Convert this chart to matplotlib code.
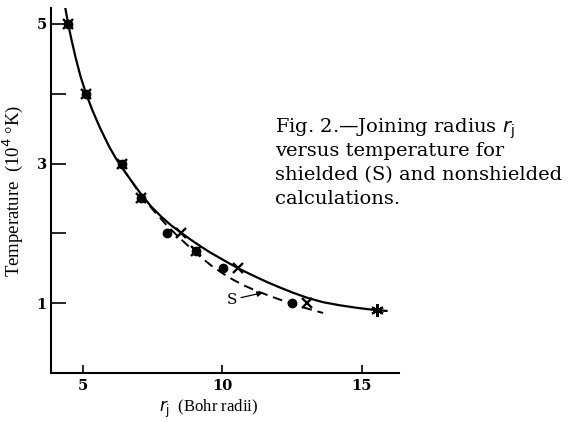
import matplotlib
matplotlib.use("Agg")
import matplotlib.pyplot as plt

# smooth curve through the nonshielded results (r_j in Bohr radii, T in 10^4 K)
curve_r = [4.38, 4.48, 4.60, 4.75, 4.92, 5.12, 5.35, 5.62, 5.95, 6.20,
           6.42, 6.70, 7.10, 7.45, 7.80, 8.15, 8.52, 8.85, 9.20, 9.55,
           9.90, 10.25, 10.57, 11.00, 11.59, 12.00, 12.50, 13.02, 13.60, 14.21,
           14.80, 15.20, 15.53, 15.88]
curve_t = [5.22, 5.00, 4.77, 4.51, 4.25, 4.00, 3.76, 3.51, 3.24, 3.065,
           2.935, 2.775, 2.555, 2.385, 2.245, 2.12, 2.01, 1.915, 1.82, 1.73,
           1.65, 1.57, 1.50, 1.415, 1.305, 1.235, 1.155, 1.08, 1.015, 0.97,
           0.935, 0.915, 0.90, 0.89]

# dashed curve through the shielded results
shield_curve_r = [6.42, 6.70, 7.10, 7.53, 8.00, 8.48, 8.85, 9.21, 9.60, 10.00,
                  10.39, 10.80, 11.20, 11.59, 12.00, 12.40, 12.78, 13.20, 13.61]
shield_curve_t = [2.935, 2.775, 2.54, 2.33, 2.12, 1.93, 1.795, 1.665, 1.54, 1.43,
                  1.335, 1.25, 1.18, 1.12, 1.06, 1.005, 0.955, 0.905, 0.86]

# computed points
temps = [5.0, 4.0, 3.0, 2.5, 2.0, 1.75, 1.5, 1.0]
r_nonshielded = [4.48, 5.12, 6.42, 7.10, 8.52, 9.06, 10.55, 13.05]
r_shielded = [4.48, 5.12, 6.42, 7.10, 8.03, 9.06, 10.02, 12.48]
r_last, t_last = 15.55, 0.90

x_ticks = [5, 10, 15]
y_ticks = [1, 2, 3, 4, 5]
y_labels = ["1", "", "3", "", "5"]

caption_lines = ["Fig. 2.\u2014Joining radius $\\boldsymbol{r_{\\rm j}}$",
                 "versus temperature for",
                 "shielded (S) and nonshielded",
                 "calculations."]


def main():
    fig = plt.figure(figsize=(5.73, 4.22), dpi=100)
    ax = fig.add_axes([0.089, 0.116, 0.607, 0.864])

    ax.plot(curve_r, curve_t, color="black", lw=1.6, solid_joinstyle="round")
    dashed, = ax.plot(shield_curve_r, shield_curve_t, color="black", lw=1.4)
    dashed.set_dashes((5, 3))

    ax.plot(r_shielded, temps, "o", color="black", ms=6)
    ax.plot(r_nonshielded, temps, "x", color="black", ms=6.5, mew=1.7)
    ax.plot([r_last], [t_last], marker=(6, 2, 0), color="black", ms=9, mew=1.6,
            ls="none")

    ax.annotate("S", xy=(11.45, 1.15), xytext=(10.15, 1.05),
                fontsize=11, family="DejaVu Serif", va="center",
                arrowprops=dict(arrowstyle="-|>", color="black", lw=0.9,
                                shrinkA=1, shrinkB=0, mutation_scale=8))

    ax.set_xlim(3.865, 16.32)
    ax.set_ylim(0, 5.22)

    for side in ("top", "right"):
        ax.spines[side].set_visible(False)
    for side in ("left", "bottom"):
        ax.spines[side].set_linewidth(1.5)

    ax.set_xticks(x_ticks)
    ax.set_xticklabels([str(v) for v in x_ticks])
    ax.set_yticks(y_ticks)
    ax.set_yticklabels(y_labels)
    ax.tick_params(axis="x", direction="in", length=6, width=1.2, pad=4)
    ax.tick_params(axis="y", direction="in", length=11, width=1.2, pad=3)
    for lab in ax.get_xticklabels() + ax.get_yticklabels():
        lab.set_family("DejaVu Serif")
        lab.set_fontweight("bold")
        lab.set_fontsize(10.5)

    ax.set_xlabel("$r_{\\rm j}$  (Bohr radii)", family="Liberation Serif",
                  fontsize=12)
    ax.xaxis.set_label_coords(0.454, -0.068)
    ax.set_ylabel("Temperature  (10$^{4}$ \u00b0K)", family="Liberation Serif",
                  fontsize=13.5, labelpad=8)

    # caption block, one line at a time so the math line keeps even spacing
    for i, line in enumerate(caption_lines):
        fig.text(0.48, 1 - (125 + 24 * i) / 422, line, family="DejaVu Serif",
                 fontsize=14, va="center_baseline", ha="left")

    fig.savefig("out.png", dpi=100)


if __name__ == "__main__":
    main()
